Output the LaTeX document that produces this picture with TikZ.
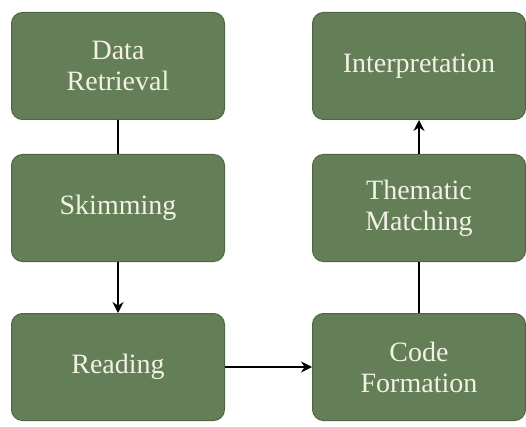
\documentclass[tikz,border=0pt]{standalone}
\usepackage{fontspec}
\setmainfont{Liberation Serif}
\usetikzlibrary{arrows.meta}
\definecolor{boxfill}{HTML}{647E57}
\definecolor{boxline}{HTML}{4E6644}
\definecolor{boxtext}{HTML}{F2F2E4}
\begin{document}
\begin{tikzpicture}[x=1pt,y=-1pt,
  stepbox/.style={draw=boxline,line width=1pt,fill=boxfill,rounded corners=11pt,
    minimum width=213pt,minimum height=107pt,text=boxtext,align=center,
    font=\fontsize{28}{31}\selectfont,inner sep=0pt},
  conn/.style={line width=1.4pt,black},
  arr/.style={conn,-{Stealth[length=11pt,width=11pt]}}]
\useasboundingbox (0,0) rectangle (526,427);
\fill[white] (0,0) rectangle (526,427);
\node[stepbox] (dr) at (118,66) {Data\\Retrieval};
\node[stepbox] (sk) at (118,208) {Skimming};
\node[stepbox] (rd) at (118,367) {Reading};
\node[stepbox] (in) at (419,66) {Interpretation};
\node[stepbox] (tm) at (419,208) {Thematic\\Matching};
\node[stepbox] (cf) at (419,367) {Code\\Formation};
\draw[conn] (dr) -- (sk);
\draw[arr] (sk) -- (rd);
\draw[arr] (rd) -- (cf);
\draw[conn] (cf) -- (tm);
\draw[arr] (tm) -- (in);
\end{tikzpicture}
\end{document}
